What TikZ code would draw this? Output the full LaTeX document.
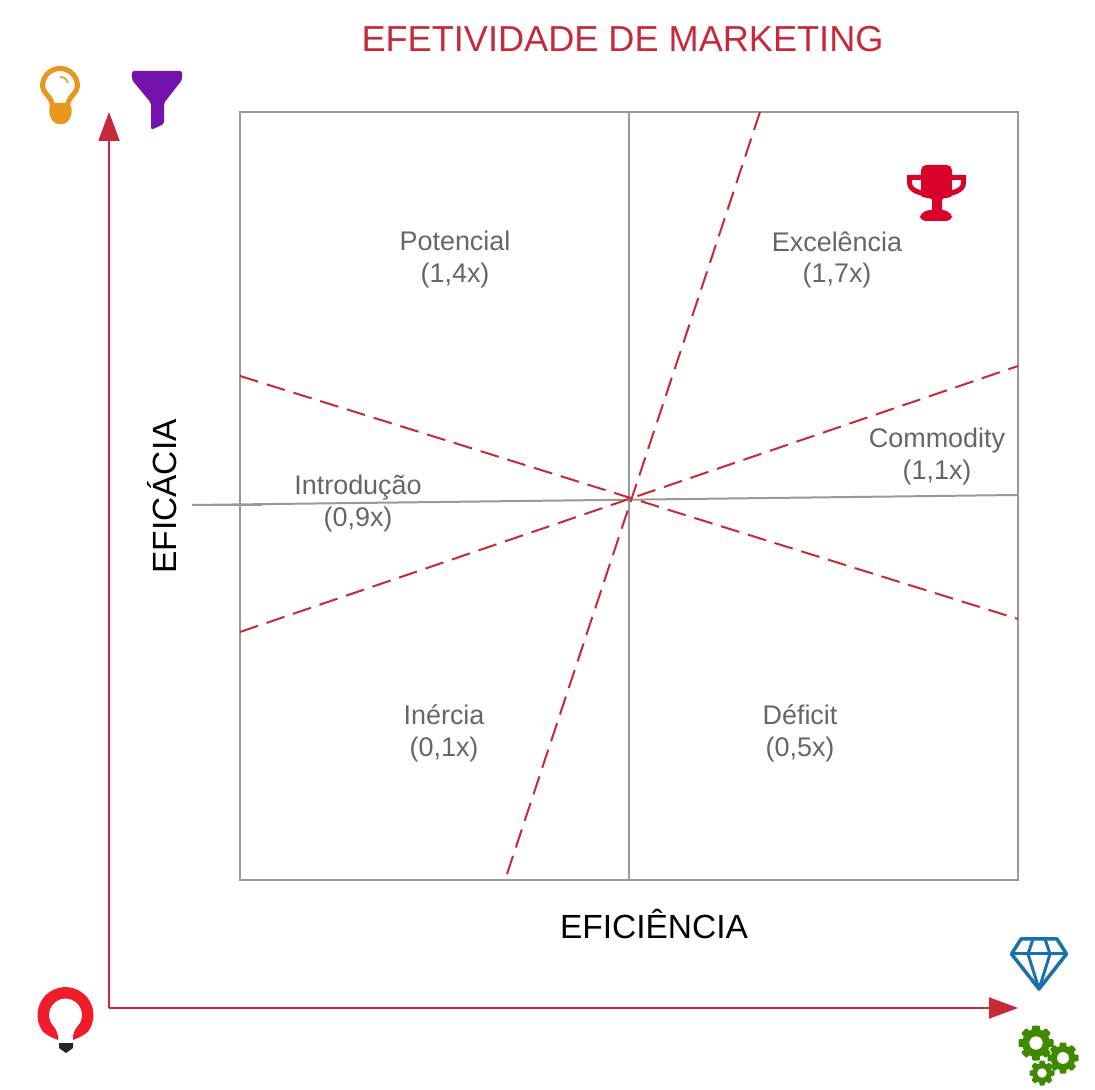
\documentclass[tikz,border=0pt]{standalone}
\usepackage{fontspec}
\setmainfont{Liberation Sans}
\usetikzlibrary{arrows.meta}
\definecolor{axisred}{HTML}{C7293B}
\definecolor{framegray}{HTML}{999999}
\definecolor{labelgray}{HTML}{666666}
\definecolor{bulborange}{HTML}{E8961C}
\definecolor{funnelpurple}{HTML}{7412AE}
\definecolor{trophyred}{HTML}{D9002A}
\definecolor{gemblue}{HTML}{1A6FAD}
\definecolor{geargreen}{HTML}{3F8A00}
\definecolor{bulbred}{HTML}{EF1C2A}
\tikzset{
  frameline/.style={framegray,line width=0.02cm},
  zoneline/.style={axisred,line width=0.02cm,dash pattern=on 0.19cm off 0.09cm},
  axisline/.style={axisred,line width=0.02cm,-{Triangle[length=0.29cm,width=0.21cm]}},
  zonelabel/.style={labelgray,align=center,font=\fontsize{7.67}{9.1}\selectfont,inner sep=0pt},
  axislabel/.style={black,font=\fontsize{9.53}{11}\selectfont,inner sep=0pt},
  gearicon/.pic={
    \fill (0,0) circle (0.8);
    \foreach \a in {0,45,...,315}
      \fill[rotate=\a,rounded corners=0.3pt] (-0.22,0.6) rectangle (0.22,1);
    \fill[white] (0,0) circle (0.38);
  }
}

\begin{document}
\begin{tikzpicture}
  \useasboundingbox (0,0) rectangle (10.95,10.89);
  % frame and the two centre lines
  \coordinate (tl) at (2.40,9.77);
  \coordinate (br) at (10.18,2.09);
  \coordinate (midtop) at (6.29,9.77);
  \coordinate (midbot) at (6.29,2.09);
  \coordinate (midleft) at (1.92,5.84);
  \coordinate (stubend) at (2.62,5.84);
  \coordinate (midright) at (10.18,5.94);
  \draw[frameline] (tl) rectangle (br);
  \draw[frameline] (midtop)--(midbot);
  \draw[frameline] (midleft)--(midright);
  \draw[frameline] (midleft)--(stubend);
  % dashed zones
  \coordinate (steeptop) at (7.60,9.77);
  \coordinate (steepbot) at (5.05,2.09);
  \coordinate (downleft) at (2.40,7.13);
  \coordinate (downright) at (10.18,4.70);
  \coordinate (upleft) at (2.40,4.57);
  \coordinate (upright) at (10.18,7.23);
  \draw[zoneline] (steeptop)--(steepbot);
  \draw[zoneline] (downleft)--(downright);
  \draw[zoneline] (upleft)--(upright);
  % axes
  \coordinate (origin) at (1.09,0.81);
  \coordinate (ytip) at (1.09,9.77);
  \coordinate (xtip) at (10.18,0.81);
  \draw[axisline] (origin)--(ytip);
  \draw[axisline] (origin)--(xtip);
  % texts
  \node[axisred,inner sep=0pt,font=\fontsize{10.28}{12}\selectfont] (title) at (6.225,10.50) {EFETIVIDADE DE MARKETING};
  \node[axislabel] (xlabel) at (6.54,1.65) {EFICIÊNCIA};
  \node[axislabel,rotate=90] (ylabel) at (1.62,5.925) {EFICÁCIA};
  \node[zonelabel] (potencial) at (4.55,8.29) {Potencial\\(1,4x)};
  \node[zonelabel] (excelencia) at (8.37,8.29) {Excelência\\(1,7x)};
  \node[zonelabel] (commodity) at (9.37,6.32) {Commodity\\(1,1x)};
  \node[zonelabel] (introducao) at (3.58,5.85) {Introdução\\(0,9x)};
  \node[zonelabel] (inercia) at (4.44,3.56) {Inércia\\(0,1x)};
  \node[zonelabel] (deficit) at (8.00,3.56) {Déficit\\(0,5x)};
  % orange bulb
  \draw[bulborange,line width=0.05cm] (0.525,9.84) .. controls (0.51,9.93) and (0.425,9.96) .. (0.425,10.03) arc (180:0:0.175) .. controls (0.775,9.96) and (0.69,9.93) .. (0.675,9.84);
  \draw[bulborange,line width=0.015cm] (0.60,10.12) .. controls (0.65,10.12) and (0.67,10.09) .. (0.68,10.06);
  \fill[bulborange,rounded corners=1pt] (0.50,9.86)--(0.70,9.86)--(0.72,9.80)--(0.71,9.72)--(0.66,9.65)--(0.55,9.65)--(0.50,9.72)--(0.49,9.80)--cycle;
  % funnel
  \fill[funnelpurple,rounded corners=0.5pt] (1.32,10.18)--(1.82,10.18)--(1.82,10.09)--(1.64,9.86)--(1.64,9.65)--(1.51,9.59)--(1.51,9.86)--(1.32,10.09)--cycle;
  % trophy
  \fill[trophyred,rounded corners=1.5pt] (9.21,9.24)--(9.52,9.24)--(9.52,8.99) .. controls (9.52,8.90) and (9.42,8.92) .. (9.42,8.84) .. controls (9.42,8.80) and (9.46,8.78) .. (9.52,8.76)--(9.52,8.68)--(9.20,8.68)--(9.20,8.76) .. controls (9.26,8.78) and (9.32,8.80) .. (9.32,8.84) .. controls (9.32,8.92) and (9.21,8.90) .. (9.21,8.99)--cycle;
  \draw[trophyred,line width=0.05cm] (9.25,9.115)--(9.095,9.115)--(9.095,9.06) .. controls (9.10,8.98) and (9.20,8.96) .. (9.30,8.94);
  \draw[trophyred,line width=0.05cm] (9.48,9.115)--(9.635,9.115)--(9.635,9.06) .. controls (9.63,8.98) and (9.53,8.96) .. (9.43,8.94);
  % diamond
  \draw[gemblue,line width=0.035cm,line join=round] (10.21,1.50)--(10.57,1.50)--(10.665,1.35)--(10.39,1.00)--(10.115,1.35)--cycle;
  \draw[gemblue,line width=0.03cm,line join=round] (10.115,1.35)--(10.665,1.35);
  \draw[gemblue,line width=0.03cm,line join=round] (10.33,1.50)--(10.28,1.35)--(10.39,1.00)--(10.50,1.35)--(10.45,1.50);
  % gears
  \pic[geargreen,scale=0.175] at (10.36,0.46) {gearicon};
  \pic[geargreen,scale=0.155] at (10.63,0.31) {gearicon};
  \pic[geargreen,scale=0.125] at (10.42,0.16) {gearicon};
  % red bulb
  \fill[bulbred] (0.58,0.49) .. controls (0.53,0.51) and (0.48,0.53) .. (0.431,0.571) arc[start angle=217,end angle=-37,radius=0.28] .. controls (0.83,0.53) and (0.78,0.51) .. (0.73,0.49)--(0.73,0.53) .. controls (0.74,0.57) and (0.75,0.60) .. (0.772,0.623) arc[start angle=-45,end angle=225,radius=0.165] .. controls (0.56,0.60) and (0.57,0.57) .. (0.58,0.53)--cycle;
  \fill[black!85] (0.59,0.46)--(0.73,0.46)--(0.73,0.41)--(0.66,0.36)--(0.59,0.41)--cycle;
\end{tikzpicture}
\end{document}
